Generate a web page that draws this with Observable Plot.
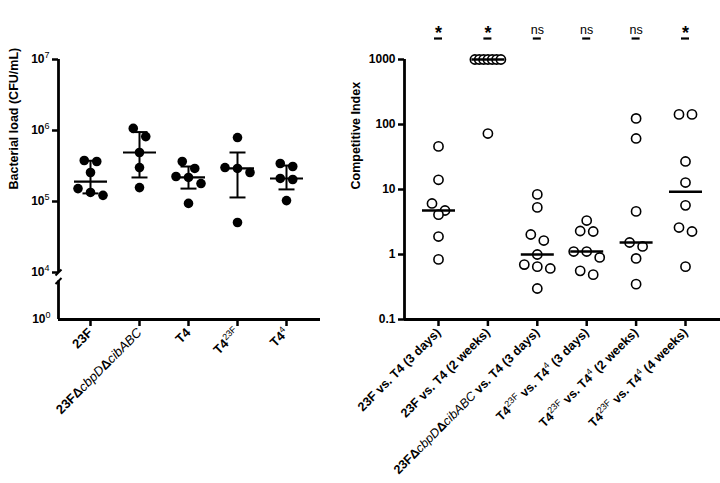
<!DOCTYPE html>
<html><head><meta charset="utf-8">
<script src="https://cdn.jsdelivr.net/npm/d3@7"></script>
<script src="https://cdn.jsdelivr.net/npm/@observablehq/plot@0.6"></script>
<style>
body{margin:0;background:#fff;}
#wrap{position:relative;width:720px;height:483px;overflow:hidden;font-family:"Liberation Sans",Arial,sans-serif;background:#fff;}
.letter{position:absolute;top:1px;font-size:20px;font-weight:bold;line-height:1;}
#a,#b{position:absolute;top:0;}
#a{left:0;} #b{left:340px;}
</style></head><body>
<div id="wrap">
  <div class="letter" style="left:2px">A.</div>
  <div class="letter" style="left:341px">B.</div>
  <div id="a"></div><div id="b"></div>
</div>
<script>
// ---------- Panel A data (CFU/mL) ----------
const catsA = ["23F", "23FΔ<i>cbpD</i>Δ<i>cibABC</i>", "T4", "T4<sup>23F</sup>", "T4<sup>4</sup>"];
const load23F    = [3.66e5, 3.78e5, 2.56e5, 1.52e5, 1.22e5, 1.34e5];
const loadDelta  = [1.07e6, 8.2e5, 4.9e5, 3.0e5, 1.57e5];
const loadT4     = [3.66e5, 2.92e5, 2.25e5, 2.18e5, 1.79e5, 9.4e4];
const loadT4_23F = [7.96e5, 3.01e5, 2.92e5, 2.56e5, 5.06e4];
const loadT4_4   = [3.43e5, 3.11e5, 2.11e5, 2.04e5, 1.03e5];
const centerA = [1.91e5, 4.9e5, 2.18e5, 2.92e5, 2.11e5];
const lowA    = [1.3e5, 2.18e5, 1.52e5, 1.14e5, 1.48e5];
const highA   = [3.75e5, 9.5e5, 3.11e5, 4.9e5, 3.21e5];
const yTicksA = [4, 5, 6, 7];   // log10 exponents above the axis break

// ---------- Panel B data (competitive index) ----------
const catsB = ["23F vs. T4 (3 days)", "23F vs. T4 (2 weeks)",
  "23FΔ<i>cbpD</i>Δ<i>cibABC</i> vs. T4 (3 days)",
  "T4<sup>23F</sup> vs. T4<sup>4</sup> (3 days)",
  "T4<sup>23F</sup> vs. T4<sup>4</sup> (2 weeks)",
  "T4<sup>23F</sup> vs. T4<sup>4</sup> (4 weeks)"];
const ci1 = [46, 14.1, 6.1, 4.75, 4.1, 1.89, 0.84];
const ci2 = [1000, 1000, 1000, 1000, 1000, 1000, 1000, 72.6];
const ci3 = [8.4, 5.3, 2.03, 1.64, 1.0, 0.70, 0.65, 0.61, 0.30];
const ci4 = [3.33, 2.3, 2.26, 1.11, 1.11, 0.90, 0.56, 0.49];
const ci5 = [124, 61, 4.6, 1.53, 1.33, 0.87, 0.35];
const ci6 = [143, 143, 27, 12.8, 5.7, 2.6, 2.26, 0.65];
const sigB = ["*", "*", "ns", "ns", "ns", "*"];
const yTicksB = [0.1, 1, 10, 100, 1000];

const FONT = "Liberation Sans, Arial, sans-serif";

// scatter-dot-plot style spreading (rows of nearby values set side by side)
function spread(values, binDec, step, maxSpread) {
  const idx = d3.range(values.length).sort((i, j) => values[j] - values[i]);
  const off = new Array(values.length).fill(0);
  let row = [];
  const flush = () => {
    const k = row.length;
    const s = k > 1 ? Math.min(step, maxSpread / (k - 1)) : 0;
    row.forEach((i, r) => off[i] = (r - (k - 1) / 2) * s);
    row = [];
  };
  for (const i of idx) {
    if (row.length && Math.log10(values[row[0]]) - Math.log10(values[i]) > binDec) flush();
    row.push(i);
  }
  flush();
  return off;
}

// turn "<i>..</i>" / "<sup>..</sup>" markup in rendered texts into tspans
function richify(svg) {
  const NS = "http://www.w3.org/2000/svg";
  svg.querySelectorAll("text").forEach(t => {
    const s = t.textContent;
    if (!s.includes("<")) return;
    const fs = parseFloat(t.getAttribute("font-size") || getComputedStyle(t).fontSize) || 12;
    const parts = s.split(/(<i>.*?<\/i>|<sup>.*?<\/sup>)/).filter(p => p !== "");
    t.textContent = "";
    let raised = false;
    for (const p of parts) {
      const ts = document.createElementNS(NS, "tspan");
      if (p.startsWith("<i>")) {
        ts.textContent = p.slice(3, -4);
        ts.setAttribute("font-style", "italic");
        ts.setAttribute("font-weight", "normal");
        if (raised) { ts.setAttribute("dy", fs * 0.42); raised = false; }
      } else if (p.startsWith("<sup>")) {
        ts.textContent = p.slice(5, -6);
        ts.setAttribute("font-size", fs * 0.75);
        ts.setAttribute("font-weight", "normal");
        ts.setAttribute("dy", -fs * 0.42);
        raised = true;
      } else {
        ts.textContent = p;
        if (raised) { ts.setAttribute("dy", fs * 0.42); raised = false; }
      }
      t.appendChild(ts);
    }
  });
}

// ---------- Panel A ----------
const groupsA = [load23F, loadDelta, loadT4, loadT4_23F, loadT4_4];
const stepA = 49;                       // px per category
const xDomA = [-32 / stepA, 230 / stepA];
const zeroPos = 4 - 47 / 71;            // where 10^0 sits below the break
const breakLow = 4 - 8.5 / 71;
const ptsA = groupsA.flatMap((vals, g) => {
  const off = spread(vals, 0.127, 12.5, 26);
  return vals.map((v, i) => ({g, v, x: g + off[i] / stepA, ly: Math.log10(v)}));
});
const sumA = centerA.map((c, g) => ({g, c: Math.log10(c), lo: Math.log10(lowA[g]), hi: Math.log10(highA[g])}));
const capA = 8 / stepA, medA = 16.5 / stepA;

const plotA = Plot.plot({
  width: 340, height: 483,
  marginLeft: 58, marginRight: 20, marginTop: 59, marginBottom: 164,
  style: {fontFamily: FONT, background: "white", color: "black", overflow: "visible"},
  x: {domain: xDomA, axis: null},
  y: {domain: [zeroPos, 7], axis: null},
  marks: [
    Plot.ruleX([xDomA[0]], {y1: 4, y2: 7, strokeWidth: 2.8}),
    Plot.ruleX([xDomA[0]], {y1: zeroPos, y2: breakLow, strokeWidth: 2.8}),
    Plot.link([4, breakLow], {x1: xDomA[0] - 3 / stepA, x2: xDomA[0] + 3 / stepA,
      y1: d => d - 3 / 71, y2: d => d + 3 / 71, strokeWidth: 2}),
    Plot.ruleY([zeroPos], {strokeWidth: 2.8}),
    Plot.axisY({ticks: yTicksA, tickFormat: t => `10<sup>${t}</sup>`, tickSize: 6, tickPadding: 3,
      strokeWidth: 2.5, fontSize: 12, fontWeight: "bold", label: null}),
    Plot.axisY({ticks: [zeroPos], tickFormat: () => "10<sup>0</sup>", tickSize: 0, tickPadding: 8,
      fontSize: 12, fontWeight: "bold", label: null}),
    Plot.axisX({ticks: d3.range(catsA.length), tickFormat: i => catsA[i], tickSize: 7, tickPadding: 4,
      strokeWidth: 2.5, tickRotate: -45, fontSize: 13, fontWeight: "bold", label: null}),
    Plot.text(["Bacterial load (CFU/mL)"], {frameAnchor: "left", rotate: -90, dx: -45,
      fontSize: 12.5, fontWeight: "bold"}),
    Plot.dot(ptsA, {x: "x", y: "ly", r: 4.8, fill: "black"}),
    Plot.ruleX(sumA, {x: "g", y1: "lo", y2: "hi", strokeWidth: 2}),
    Plot.link(sumA, {x1: d => d.g - capA, x2: d => d.g + capA, y1: "lo", y2: "lo", strokeWidth: 2}),
    Plot.link(sumA, {x1: d => d.g - capA, x2: d => d.g + capA, y1: "hi", y2: "hi", strokeWidth: 2}),
    Plot.link(sumA, {x1: d => d.g - medA, x2: d => d.g + medA, y1: "c", y2: "c", strokeWidth: 2.2})
  ]
});
richify(plotA);
document.getElementById("a").appendChild(plotA);

// ---------- Panel B ----------
const groupsB = [ci1, ci2, ci3, ci4, ci5, ci6];
const stepB = 49.4;
const xDomB = [-34 / stepB, 282 / stepB];
const ptsB = groupsB.flatMap((vals, g) => {
  const off = spread(vals, 0.14, 13, 26);
  return vals.map((v, i) => ({g, v, x: g + off[i] / stepB}));
});
const medB = groupsB.map((vals, g) => ({g, m: d3.median(vals)}));
const halfB = 16.5 / stepB;
const sigRows = sigB.map((s, i) => ({s, i}));

const plotB = Plot.plot({
  width: 380, height: 483,
  marginLeft: 64, marginRight: 0, marginTop: 59, marginBottom: 164,
  style: {fontFamily: FONT, background: "white", color: "black", overflow: "visible"},
  x: {domain: xDomB, axis: null},
  y: {type: "log", domain: [0.1, 1000], axis: null},
  marks: [
    Plot.ruleX([xDomB[0]], {strokeWidth: 2.8}),
    Plot.ruleY([0.1], {strokeWidth: 2.8}),
    Plot.axisY({ticks: yTicksB, tickFormat: d => String(d), tickSize: 6, tickPadding: 3,
      strokeWidth: 2.5, fontSize: 12, fontWeight: "bold", label: null}),
    Plot.axisX({ticks: d3.range(catsB.length), tickFormat: i => catsB[i], tickSize: 7, tickPadding: 4,
      strokeWidth: 2.5, tickRotate: -45, fontSize: 12.5, fontWeight: "bold", label: null}),
    Plot.text(["Competitive Index"], {frameAnchor: "left", rotate: -90, dx: -49,
      fontSize: 12.5, fontWeight: "bold"}),
    Plot.dot(ptsB, {x: "x", y: "v", r: 4.6, fill: "white", stroke: "black", strokeWidth: 1.6}),
    Plot.link(medB, {x1: d => d.g - halfB, x2: d => d.g + halfB, y1: "m", y2: "m", strokeWidth: 2.5}),
    Plot.text(sigRows.filter(d => d.s === "*"), {x: "i", text: "s", frameAnchor: "top", lineAnchor: "middle",
      dy: -26, fontSize: 18, fontWeight: "bold"}),
    Plot.text(sigRows.filter(d => d.s !== "*"), {x: "i", text: "s", frameAnchor: "top", lineAnchor: "middle",
      dy: -30, fontSize: 12.5}),
    Plot.ruleY(sigRows, {y: () => 1000, x1: d => d.i - 4 / stepB, x2: d => d.i + 4 / stepB,
      dy: -21, strokeWidth: 2.2})
  ]
});
richify(plotB);
document.getElementById("b").appendChild(plotB);
</script>
</body></html>
